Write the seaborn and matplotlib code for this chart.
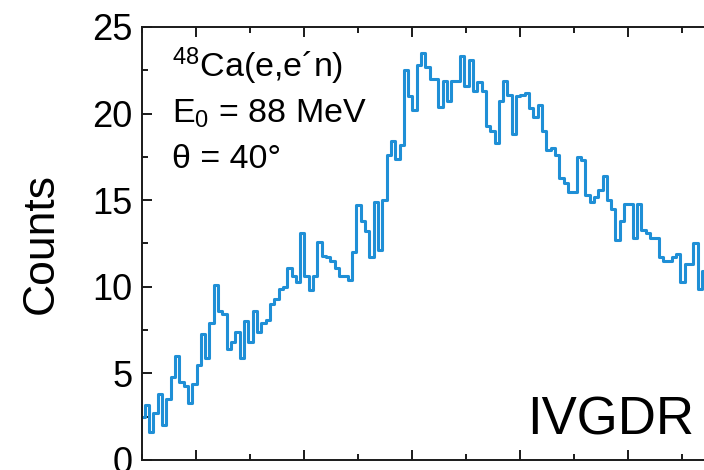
import numpy as np
import pandas as pd
import matplotlib
matplotlib.use("Agg")
import matplotlib.pyplot as plt
from matplotlib.ticker import MultipleLocator, NullFormatter
import seaborn as sns

# 48Ca(e,e'n) spectrum, counts per bin
counts = [2.5, 3.2, 1.6, 2.7, 3.8, 2.0, 3.5, 4.8, 6.0, 4.5,
          4.3, 3.3, 4.4, 5.5, 7.3, 5.9, 7.9, 10.1, 8.6, 8.4,
          6.4, 6.8, 7.4, 5.9, 8.0, 6.8, 8.6, 7.4, 7.9, 8.1,
          9.0, 9.3, 9.9, 10.0, 11.1, 10.6, 10.3, 13.1, 10.6, 9.8,
          10.6, 12.6, 11.8, 11.7, 11.5, 11.1, 10.6, 10.6, 10.4, 12.0,
          14.7, 13.8, 13.2, 11.7, 14.9, 12.1, 15.0, 17.6, 18.4, 17.4,
          18.2, 22.5, 21.0, 20.2, 22.8, 23.5, 22.7, 22.0, 22.0, 20.4,
          21.9, 20.7, 21.9, 21.9, 23.3, 21.6, 23.1, 21.3, 21.8, 21.3,
          19.3, 19.0, 18.3, 20.7, 21.9, 21.1, 18.8, 21.0, 21.1, 21.2,
          20.3, 19.8, 20.5, 19.0, 17.9, 18.0, 17.6, 16.3, 16.0, 15.5,
          15.5, 17.5, 17.3, 15.3, 14.9, 15.2, 15.6, 16.4, 15.0, 14.5,
          12.7, 13.8, 14.8, 14.8, 12.8, 14.8, 13.3, 13.1, 12.8, 12.8,
          11.7, 11.5, 11.5, 11.7, 11.9, 10.3, 11.3, 11.3, 12.5, 9.9, 10.9]
e_start = 12.97     # MeV, lower edge of first bin
bin_width = 0.08    # MeV

edges = np.linspace(e_start, e_start + len(counts) * bin_width, len(counts) + 1)
df = pd.DataFrame({"energy": edges[:-1] + bin_width / 2, "counts": counts})

sns.set_style("ticks")
plt.rcParams['font.family'] = ['Liberation Sans', 'DejaVu Sans']
plt.rcParams['mathtext.fontset'] = 'custom'
plt.rcParams['mathtext.rm'] = 'Liberation Sans'
plt.rcParams['mathtext.it'] = 'Liberation Sans:italic'
plt.rcParams['text.color'] = 'black'
plt.rcParams['axes.labelcolor'] = 'black'
plt.rcParams['xtick.color'] = 'black'
plt.rcParams['ytick.color'] = 'black'

fig = plt.figure(figsize=(7.04, 4.70), dpi=100)
ax = fig.add_axes([0.2017, 0.0213, 0.7983, 0.9213])

sns.histplot(data=df, x="energy", weights="counts", bins=edges.tolist(),
             element="step", fill=False, color="#1f8fd6", linewidth=2.2, ax=ax)

ax.set_xlim(13.0, 23.41)
ax.set_ylim(0, 25)
ax.xaxis.set_major_locator(MultipleLocator(2))
ax.xaxis.set_minor_locator(MultipleLocator(1))
ax.xaxis.set_major_formatter(NullFormatter())
ax.yaxis.set_major_locator(MultipleLocator(5))
ax.yaxis.set_minor_locator(MultipleLocator(2.5))

for side in ['left', 'top', 'bottom']:
    ax.spines[side].set_linewidth(1.4)
    ax.spines[side].set_color('#1a1a1a')
ax.spines['right'].set_visible(False)

ax.tick_params(which='both', direction='in', top=True, right=False,
               color='#1a1a1a', width=1.4)
ax.tick_params(which='major', length=7, labelsize=26, pad=7)
ax.tick_params(which='minor', length=4)

ax.set_xlabel("")
ax.set_ylabel("Counts", fontsize=32, labelpad=22)

ax.text(0.053, 0.885, r"$^{48}$Ca(e,e´n)", transform=ax.transAxes,
        fontsize=24.5, va='baseline', ha='left')
ax.text(0.053, 0.78, r"E$_0$ = 88 MeV", transform=ax.transAxes,
        fontsize=24.5, va='baseline', ha='left')
ax.text(0.053, 0.674, "θ = 40°", transform=ax.transAxes,
        fontsize=24.5, va='baseline', ha='left')
ax.text(0.685, 0.058, "IVGDR", transform=ax.transAxes,
        fontsize=38, va='baseline', ha='left')

fig.savefig("out.png", dpi=100)
